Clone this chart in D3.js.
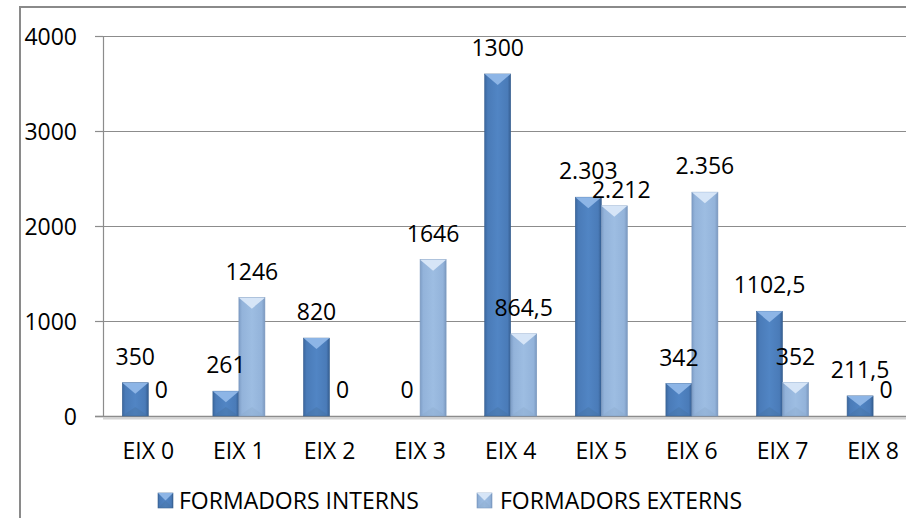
<!DOCTYPE html>
<html>
<head>
<meta charset="utf-8">
<script src="https://cdn.jsdelivr.net/npm/d3@7"></script>
<style>
    body { margin: 0; background: #fff; }
    svg { display: block; font-family: "Open Sans", sans-serif; }
    .lbl { font-size: 23px; fill: #000; }
</style>
</head>
<body>
<svg id="chart" width="906" height="518"></svg>
<script>
// values
let categories = ['EIX 0', 'EIX 1', 'EIX 2', 'EIX 3', 'EIX 4', 'EIX 5', 'EIX 6', 'EIX 7', 'EIX 8'];
let seriesNames = ['FORMADORS INTERNS', 'FORMADORS EXTERNS'];
// bar heights as plotted
let interns = [350, 261, 820, 0, 3600, 2303, 342, 1102.5, 211.5];
let externs = [0, 1246, 0, 1646, 864.5, 2212, 2356, 352, 0];
// data labels as printed (they do not always match the heights)
let internsLabels = ['350', '261', '820', '0', '1300', '2.303', '342', '1102,5', '211,5'];
let externsLabels = ['0', '1246', '0', '1646', '864,5', '2.212', '2.356', '352', '0'];
let yTicks = [0, 1000, 2000, 3000, 4000];

let svg = d3.select('#chart');
let plotLeft = 103, plotRight = 918.4, plotTop = 36, plotBottom = 416;
let fontSize = '23px';

let x = d3.scaleBand().domain(categories).range([plotLeft, plotRight]).padding(0);
let y = d3.scaleLinear().domain([0, 4000]).range([plotBottom, plotTop]);
let barW = x.bandwidth() * 0.287;

let defs = svg.append('defs');
function grad(id, stops) {
    let g = defs.append('linearGradient').attr('id', id)
        .attr('x1', 0).attr('x2', 1).attr('y1', 0).attr('y2', 0);
    stops.forEach(s => g.append('stop').attr('offset', s[0]).attr('stop-color', s[1]));
}
grad('gInt', [[0, '#3b679f'], [0.12, '#4a7bb8'], [0.5, '#5185c4'], [0.88, '#4a7bb8'], [1, '#355d90']]);
grad('gExt', [[0, '#7d9dc6'], [0.12, '#93b3da'], [0.5, '#9dbde2'], [0.88, '#93b3da'], [1, '#7a98bf']]);

let styles = [
    {fill: 'url(#gInt)', cap: '#8db5e6', foot: '#44719f', edge: '#3a6190'},
    {fill: 'url(#gExt)', cap: '#d6e5f7', foot: '#8aa8cc', edge: '#7b98be'},
];

// outer chart border (partly cut off)
svg.append('path')
    .attr('d', 'M20,520 L20,7 L910,7')
    .attr('fill', 'none').attr('stroke', '#8a8a8a').attr('stroke-width', 2);

// gridlines
svg.append('g').selectAll('line')
    .data(yTicks.filter(d => d > 0))
    .enter().append('line')
    .attr('x1', plotLeft).attr('x2', plotRight)
    .attr('y1', d => y(d) + 0.5).attr('y2', d => y(d) + 0.5)
    .attr('stroke', '#8c8c8c').attr('stroke-width', 1.2);

// y axis
let yAxis = svg.append('g')
    .attr('transform', `translate(${plotLeft},0)`)
    .call(d3.axisLeft(y).tickValues(yTicks).tickSize(8).tickPadding(18).tickFormat(d3.format('d')));
yAxis.select('.domain').attr('stroke', '#8c8c8c').attr('stroke-width', 1.2);
yAxis.selectAll('.tick line').attr('stroke', '#8c8c8c').attr('stroke-width', 1.2);
yAxis.selectAll('.tick text')
    .attr('class', 'lbl').attr('dy', '0.38em')
    .style('font-family', '"Open Sans", sans-serif').style('font-size', fontSize);

// floor line with a soft shadow
svg.append('line').attr('x1', plotLeft).attr('x2', plotRight)
    .attr('y1', plotBottom + 2.5).attr('y2', plotBottom + 2.5)
    .attr('stroke', '#d4d4d4').attr('stroke-width', 2);
svg.append('line').attr('x1', plotLeft - 8).attr('x2', plotRight)
    .attr('y1', plotBottom + 0.5).attr('y2', plotBottom + 0.5)
    .attr('stroke', '#8c8c8c').attr('stroke-width', 1.4);

// x axis labels
let xAxis = svg.append('g')
    .attr('transform', `translate(0,${plotBottom})`)
    .call(d3.axisBottom(x).tickSize(0).tickPadding(0));
xAxis.select('.domain').remove();
xAxis.selectAll('.tick text')
    .attr('class', 'lbl').attr('y', 43).attr('dy', 0)
    .style('font-family', '"Open Sans", sans-serif').style('font-size', fontSize);

// bars
let rows = categories.map((c, i) => [
    {cat: c, s: 0, v: interns[i], label: internsLabels[i]},
    {cat: c, s: 1, v: externs[i], label: externsLabels[i]},
]).flat();

let barX = d => x(d.cat) + x.bandwidth() / 2 - (d.s === 0 ? barW : 0);

function bevelBar(g, x0, y0, w, h, st) {
    g.append('rect').attr('x', x0).attr('y', y0).attr('width', w).attr('height', h)
        .attr('fill', st.fill).attr('stroke', st.edge).attr('stroke-width', 0.6);
    let capH = Math.min(11, h / 2);
    g.append('path')
        .attr('d', `M${x0},${y0} L${x0 + w},${y0} L${x0 + w / 2},${y0 + capH} Z`)
        .attr('fill', st.cap);
    let footH = Math.min(9, h / 2);
    g.append('path')
        .attr('d', `M${x0},${y0 + h} L${x0 + w},${y0 + h} L${x0 + w / 2},${y0 + h - footH} Z`)
        .attr('fill', st.foot).attr('opacity', 0.35);
}

let barsG = svg.append('g');
rows.filter(d => d.v > 0).forEach(d => {
    bevelBar(barsG, barX(d), y(d.v), barW, plotBottom - y(d.v), styles[d.s]);
});

// data labels; the one Excel nudged to avoid overlap keeps its nudge
let nudge = {'EIX 5-1': [7, 10]};
let off = d => nudge[d.cat + '-' + d.s] || [0, 0];
svg.append('g').selectAll('text')
    .data(rows)
    .enter().append('text')
    .attr('class', 'lbl')
    .attr('text-anchor', 'middle')
    .attr('x', d => barX(d) + barW / 2 + off(d)[0])
    .attr('y', d => y(d.v) - 18 + off(d)[1])
    .text(d => d.label);

// legend
let legendX = [158, 477];
let legend = svg.append('g').selectAll('g')
    .data(seriesNames)
    .enter().append('g')
    .attr('transform', (d, i) => `translate(${legendX[i]},493)`);
legend.each(function (d, i) {
    let g = d3.select(this);
    bevelBar(g, 0, 0, 15, 15, styles[i]);
    g.append('text').attr('class', 'lbl').attr('x', i === 1 ? 23 : 21).attr('y', 16).text(d);
});
</script>
</body>
</html>
